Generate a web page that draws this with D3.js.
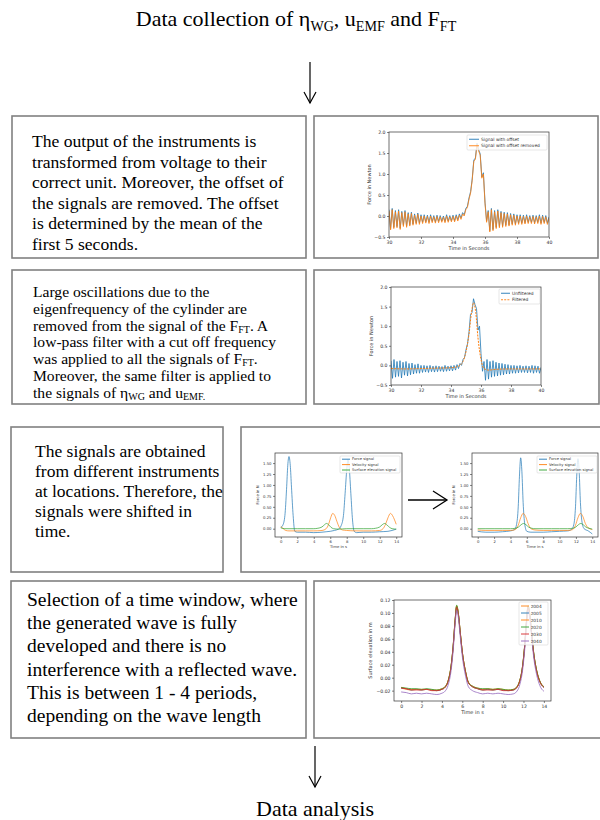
<!DOCTYPE html>
<html><head><meta charset="utf-8">
<script src="https://cdn.jsdelivr.net/npm/d3@7"></script>
<style>body{margin:0;background:#fff}svg{display:block}</style>
</head><body><svg id="c" width="600" height="820"></svg>
<script>
// ---------------- DATA ----------------
const titleText = "Data collection of η_{WG}, u_{EMF} and F_{FT}";
const footerText = "Data analysis";
const box1Lines = ["The output of the instruments is","transformed from voltage to their","correct unit. Moreover, the offset of","the signals are removed. The offset","is determined by the mean of the","first 5 seconds."];
const box2Lines = ["Large oscillations due to the","eigenfrequency of the cylinder are","removed from the signal of the F_{FT}. A","low-pass filter with a cut off frequency","was applied to all the signals of F_{FT}.","Moreover, the same filter is applied to","the signals of η_{WG} and u_{EMF.}"];
const box3Lines = ["The signals are obtained","from different instruments","at locations. Therefore, the","signals were shifted in","time."];
const box4Lines = ["Selection of a time window, where","the generated wave is fully","developed and there is no","interference with a reflected wave.","This is between 1 - 4 periods,","depending on the wave length"];

// Chart 1 / 2 : force signal sampled every 0.1 s from 30 s to 40 s
const forceTime = d3.range(0, 101).map(i => +(30 + i * 0.1).toFixed(1));
const signalWithOffset = [0.15,-0.30,0.18,-0.27,0.13,-0.25,0.15,-0.29,0.11,-0.22,0.13,
  -0.24,0.08,-0.21,0.09,-0.19,0.05,-0.17,0.07,-0.17,0.03,
  -0.15,0.03,-0.14,0.02,-0.15,0.03,-0.13,0.01,-0.14,0.02,
  -0.13,0.01,-0.12,0.0,-0.13,0.03,-0.12,0.01,-0.11,0.02,
  -0.11,0.03,-0.09,0.05,-0.05,0.08,
  0.03,0.18,0.23,0.43,
  0.58,0.88,1.33,1.38,1.73,1.58,1.48,0.93,1.03,0.33,
  -0.12,0.13,-0.35,0.18,-0.32,0.13,-0.27,0.15,-0.25,0.11,
  -0.24,0.09,-0.22,0.08,-0.21,0.06,-0.19,0.05,-0.19,0.03,
  -0.17,0.03,-0.17,0.02,-0.16,0.03,-0.15,0.01,-0.15,0.02,
  -0.16,0.01,-0.15,0.03,-0.17,0.02,-0.15,0.01,-0.17,-0.02];
const signalOffsetRemoved = [0.12,-0.33,0.15,-0.30,0.10,-0.28,0.12,-0.32,0.08,-0.25,0.10,
  -0.27,0.05,-0.24,0.06,-0.22,0.02,-0.20,0.04,-0.20,0.0,
  -0.18,0.0,-0.17,-0.01,-0.18,0.0,-0.16,-0.02,-0.17,-0.01,
  -0.16,-0.02,-0.15,-0.03,-0.16,0.0,-0.15,-0.02,-0.14,-0.01,
  -0.14,0.0,-0.12,0.02,-0.08,0.05,
  0.0,0.15,0.20,0.40,
  0.55,0.85,1.30,1.35,1.70,1.55,1.45,0.90,1.00,0.30,
  -0.15,0.10,-0.38,0.15,-0.35,0.10,-0.30,0.12,-0.28,0.08,
  -0.27,0.06,-0.25,0.05,-0.24,0.03,-0.22,0.02,-0.22,0.0,
  -0.20,0.0,-0.20,-0.01,-0.19,0.0,-0.18,-0.02,-0.18,-0.01,
  -0.19,-0.02,-0.18,0.0,-0.20,-0.01,-0.18,-0.02,-0.20,-0.05];
const filteredTime = [30,31,32,33,34,34.5,34.8,35.0,35.2,35.35,35.5,35.65,35.8,36.0,36.2,36.5,37,38,39,40];
const filteredForce = [-0.08,-0.09,-0.08,-0.07,-0.06,-0.02,0.1,0.35,0.8,1.3,1.6,1.35,0.7,0.15,-0.08,-0.12,-0.1,-0.09,-0.09,-0.09];
const forceXTicks = [30,32,34,36,38,40];
const forceYTicks = [-0.5,0,0.5,1.0,1.5,2.0];

// Chart 3: before shifting
const preForceT = [0,0.25,0.5,0.7,0.85,1.0,1.15,1.3,1.5,1.7,2,3,4,5,5.5,6,6.5,7,7.3,7.6,7.8,8.0,8.15,8.3,8.5,8.7,8.9,9.2,10,11,12,13,14];
const preForce = [0.03,0.08,0.3,0.9,1.45,1.65,1.45,0.95,0.3,-0.06,-0.08,-0.08,-0.09,-0.08,-0.07,-0.06,-0.04,-0.01,0.06,0.3,0.8,1.35,1.58,1.4,0.8,0.2,-0.06,-0.09,-0.08,-0.08,-0.07,-0.06,-0.01];
const preVelT = [0,0.3,0.6,1,2,3,4,5,5.5,5.8,6.05,6.3,6.55,6.8,7.1,7.5,8,9,10,11,12,12.4,12.7,13.0,13.3,13.55,13.8,14];
const preVel = [0.05,0.0,-0.04,-0.05,-0.05,-0.05,-0.05,-0.04,0.0,0.1,0.25,0.35,0.3,0.17,0.03,-0.03,-0.04,-0.05,-0.05,-0.05,-0.04,0.0,0.1,0.25,0.35,0.3,0.2,0.1];
const preSurfT = [0,0.5,1,2,3,4,4.5,5,5.3,5.55,5.8,6.1,6.4,7,8,9,10,11,11.5,12,12.3,12.6,12.9,13.2,13.5,14];
const preSurf = [0.02,0.0,0.0,0.0,0.0,0.0,0.01,0.04,0.09,0.12,0.09,0.03,0.0,-0.01,0.0,0.0,0.0,0.0,0.01,0.04,0.09,0.12,0.08,0.03,0.0,-0.01];
// Chart 3: after shifting
const postForceT = [0,1,2,3,4,4.5,4.75,4.95,5.1,5.25,5.4,5.55,5.75,6.0,6.5,7,8,9,10,11,11.5,11.75,11.95,12.1,12.25,12.4,12.55,12.75,13.0,13.5,14];
const postForce = [-0.06,-0.08,-0.08,-0.07,-0.05,-0.02,0.1,0.5,1.2,1.62,1.3,0.6,0.1,-0.06,-0.08,-0.08,-0.08,-0.07,-0.06,-0.05,-0.01,0.1,0.5,1.2,1.6,1.3,0.6,0.15,0.0,-0.05,-0.12];
const postVelT = [0,1,2,3,4,4.6,4.95,5.25,5.55,5.85,6.15,6.5,7,8,9,10,11,11.6,11.95,12.25,12.55,12.85,13.15,13.5,14];
const postVel = [-0.03,-0.04,-0.04,-0.04,-0.04,-0.02,0.08,0.25,0.35,0.28,0.12,0.0,-0.03,-0.04,-0.04,-0.04,-0.04,-0.02,0.08,0.25,0.35,0.28,0.12,0.02,-0.02];
const postSurfT = [0,1,2,3,4,4.6,5.0,5.3,5.6,5.9,6.2,6.6,7,8,9,10,11,11.6,12.0,12.3,12.6,12.9,13.2,13.6,14];
const postSurf = [0.0,0.0,0.0,0.0,0.0,0.01,0.04,0.09,0.12,0.09,0.04,0.01,0.0,0.0,0.0,0.0,0.0,0.01,0.04,0.09,0.12,0.09,0.04,0.01,-0.01];
const signalNames = ["Force signal","Velocity signal","Surface elevation signal"];
const timeTicks = [0,2,4,6,8,10,12,14];
const shiftYTicks = [0,0.25,0.5,0.75,1.0,1.25,1.5];

// Chart 4: surface elevation at wave gauges
const gaugeT = [0,0.5,1,1.5,2,2.5,3,3.5,4,4.3,4.6,4.9,5.1,5.3,5.45,5.6,5.8,6.0,6.3,6.6,7,7.5,8,8.5,9,9.5,10,10.5,11,11.3,11.6,11.9,12.1,12.3,12.45,12.6,12.8,13.0,13.3,13.6,14];
const gaugeNames = ["z004","z005","z010","z020","z030","z040"];
const z004 = [-0.016,-0.018,-0.019,-0.018,-0.019,-0.018,-0.019,-0.020,-0.018,-0.015,-0.006,0.018,0.048,0.090,0.111,0.100,0.070,0.040,0.010,-0.008,-0.014,-0.017,-0.019,-0.018,-0.019,-0.018,-0.019,-0.020,-0.019,-0.016,-0.007,0.016,0.046,0.088,0.111,0.100,0.068,0.038,0.010,-0.006,-0.015];
const z005 = [-0.016,-0.017,-0.019,-0.018,-0.019,-0.018,-0.019,-0.020,-0.018,-0.015,-0.006,0.017,0.047,0.089,0.110,0.100,0.069,0.039,0.010,-0.008,-0.014,-0.017,-0.019,-0.018,-0.019,-0.018,-0.019,-0.020,-0.019,-0.016,-0.007,0.016,0.045,0.087,0.110,0.099,0.068,0.038,0.010,-0.006,-0.015];
const z010 = [-0.015,-0.017,-0.018,-0.018,-0.018,-0.018,-0.019,-0.019,-0.017,-0.014,-0.005,0.018,0.048,0.090,0.111,0.101,0.070,0.040,0.011,-0.007,-0.013,-0.016,-0.018,-0.017,-0.018,-0.017,-0.018,-0.019,-0.018,-0.015,-0.006,0.017,0.046,0.088,0.111,0.100,0.069,0.039,0.011,-0.005,-0.014];
const z020 = [-0.015,-0.016,-0.017,-0.017,-0.018,-0.017,-0.018,-0.019,-0.017,-0.014,-0.005,0.019,0.049,0.091,0.112,0.101,0.070,0.040,0.011,-0.007,-0.013,-0.016,-0.017,-0.017,-0.018,-0.017,-0.018,-0.019,-0.018,-0.015,-0.006,0.017,0.047,0.089,0.111,0.100,0.069,0.039,0.011,-0.005,-0.014];
const z030 = [-0.016,-0.017,-0.019,-0.019,-0.019,-0.018,-0.020,-0.020,-0.018,-0.015,-0.006,0.017,0.047,0.089,0.109,0.099,0.069,0.039,0.010,-0.008,-0.014,-0.017,-0.019,-0.019,-0.019,-0.018,-0.020,-0.020,-0.019,-0.016,-0.007,0.015,0.045,0.087,0.109,0.099,0.067,0.037,0.009,-0.006,-0.015];
const z040 = [-0.022,-0.023,-0.025,-0.024,-0.025,-0.024,-0.025,-0.026,-0.024,-0.021,-0.012,0.011,0.041,0.083,0.104,0.094,0.063,0.033,0.004,-0.014,-0.020,-0.023,-0.025,-0.024,-0.025,-0.024,-0.025,-0.026,-0.025,-0.022,-0.013,0.010,0.039,0.081,0.104,0.093,0.062,0.032,0.004,-0.012,-0.021];
const gaugeYTicks = [-0.02,0,0.02,0.04,0.06,0.08,0.10,0.12];

// ---------------- DRAWING ----------------
const svg = d3.select("#c");
const serif = "'Liberation Serif','Times New Roman',serif";
const sans = "'DejaVu Sans',sans-serif";
const C = {blue:"#1f77b4", orange:"#ff7f0e", green:"#2ca02c", red:"#d62728", purple:"#9467bd"};

function rich(g, x, y, str, size, anchor, subShift) {
  const t = g.append("text").attr("x", x).attr("y", y).attr("font-family", serif)
    .attr("font-size", size).attr("fill", "#000").attr("text-anchor", anchor || "start");
  let shifted = 0;
  const k = subShift == null ? 0.22 : subShift;
  str.split(/(_\{[^}]*\})/).forEach(p => {
    if (!p) return;
    const m = p.match(/^_\{(.*)\}$/);
    if (m) {
      const d = size * k;
      t.append("tspan").attr("font-size", size * 0.64).attr("dy", d - shifted).text(m[1]);
      shifted = d;
    } else {
      t.append("tspan").attr("dy", -shifted).text(p);
      shifted = 0;
    }
  });
  return t;
}

function box(x, y, w, h) {
  svg.append("rect").attr("x", x).attr("y", y).attr("width", w).attr("height", h)
    .attr("fill", "none").attr("stroke", "#808080").attr("stroke-width", 1.6);
}
function textBlock(lines, x, y0, dy, size, subShift) {
  lines.forEach((l, i) => rich(svg, x, y0 + i * dy, l, size, "start", subShift));
}
function arrowDown(x, y1, y2) {
  svg.append("line").attr("x1", x).attr("x2", x).attr("y1", y1).attr("y2", y2).attr("stroke", "#000").attr("stroke-width", 1.2);
  svg.append("polyline").attr("points", `${x-6},${y2-11} ${x},${y2} ${x+6},${y2-11}`).attr("fill", "none").attr("stroke", "#000").attr("stroke-width", 1.2);
}

let clipN = 0;
function chart(cfg) {
  const g = svg.append("g");
  const x = d3.scaleLinear().domain(cfg.xd).range([cfg.l, cfg.r]);
  const y = d3.scaleLinear().domain(cfg.yd).range([cfg.b, cfg.t]);
  const ax = g.append("g").attr("transform", `translate(0,${cfg.b})`)
    .call(d3.axisBottom(x).tickValues(cfg.xt).tickSize(2).tickPadding(1.5).tickFormat(cfg.xf));
  const ay = g.append("g").attr("transform", `translate(${cfg.l},0)`)
    .call(d3.axisLeft(y).tickValues(cfg.yt).tickSize(2).tickPadding(1.5).tickFormat(cfg.yf));
  [ax, ay].forEach(a => {
    a.select(".domain").remove();
    a.selectAll("text").attr("font-family", sans).attr("font-size", cfg.fs).attr("fill", "#333");
    a.selectAll("line").attr("stroke", "#333").attr("stroke-width", 0.6);
  });
  const id = "clip" + (clipN++);
  g.append("clipPath").attr("id", id).append("rect")
    .attr("x", cfg.l).attr("y", cfg.t).attr("width", cfg.r - cfg.l).attr("height", cfg.b - cfg.t);
  const line = d3.line().x(d => x(d[0])).y(d => y(d[1]));
  cfg.series.forEach(s => {
    g.append("path").attr("clip-path", `url(#${id})`)
      .datum(s.x.map((v, i) => [v, s.y[i]]))
      .attr("d", line.curve(s.curve || d3.curveLinear))
      .attr("fill", "none").attr("stroke", s.color).attr("stroke-width", s.w || 0.8)
      .attr("stroke-dasharray", s.dash || null);
  });
  g.append("rect").attr("x", cfg.l).attr("y", cfg.t).attr("width", cfg.r - cfg.l).attr("height", cfg.b - cfg.t)
    .attr("fill", "none").attr("stroke", "#333").attr("stroke-width", 0.7);
  // legend
  const L = cfg.legend;
  g.append("rect").attr("x", L.x).attr("y", L.y).attr("width", L.w).attr("height", L.h).attr("rx", 1)
    .attr("fill", "#fff").attr("fill-opacity", 0.8).attr("stroke", "#ccc").attr("stroke-width", 0.5);
  cfg.series.forEach((s, i) => {
    const yy = L.y + L.pad + L.rowH * (i + 0.5);
    g.append("line").attr("x1", L.x + 2).attr("x2", L.x + 2 + L.sw).attr("y1", yy).attr("y2", yy)
      .attr("stroke", s.color).attr("stroke-width", 0.9).attr("stroke-dasharray", s.dash || null);
    g.append("text").attr("x", L.x + 4 + L.sw).attr("y", yy).attr("dy", "0.35em")
      .attr("font-family", sans).attr("font-size", L.fs).attr("fill", "#333").text(s.name);
  });
  g.append("text").attr("x", (cfg.l + cfg.r) / 2).attr("y", cfg.xlY).attr("text-anchor", "middle")
    .attr("font-family", sans).attr("font-size", cfg.lfs).attr("fill", "#333").text(cfg.xlabel);
  g.append("text").attr("transform", `translate(${cfg.ylX},${(cfg.t + cfg.b) / 2}) rotate(-90)`)
    .attr("text-anchor", "middle").attr("font-family", sans).attr("font-size", cfg.lfs).attr("fill", "#333").text(cfg.ylabel);
}

// title + arrows
rich(svg, 296, 26, titleText, 22, "middle");
arrowDown(310, 62, 103);
arrowDown(315, 746, 787);
rich(svg, 315, 816, footerText, 22, "middle");

// boxes
box(12, 116, 294, 142); box(314, 116, 284, 142);
box(12, 270, 294, 134); box(314, 270, 285, 134);
box(11, 427, 212, 145); box(241, 427, 362, 145);
box(11, 581, 295, 157); box(314, 581, 290, 157);

textBlock(box1Lines, 32, 147, 20.6, 17.6);
textBlock(box2Lines, 33, 297, 16.8, 15.6, 0.14);
textBlock(box3Lines, 35, 457, 20, 17.5);
textBlock(box4Lines, 27, 606, 23.2, 19.5);

const f1 = d3.format(".1f"), f2 = d3.format(".2f"), fi = d3.format("d");

chart({l:389, r:549, t:132, b:237, xd:[30,40], yd:[-0.5,2.0], xt:forceXTicks, yt:forceYTicks, xf:fi, yf:f1, fs:4.6, lfs:5,
  xlabel:"Time in Seconds", ylabel:"Force in Newton", xlY:250, ylX:371,
  series:[{x:forceTime, y:signalWithOffset, color:C.blue, name:"Signal with offset"},
          {x:forceTime, y:signalOffsetRemoved, color:C.orange, name:"Signal with offset removed"}],
  legend:{x:467, y:135, w:80, h:15, pad:1, rowH:6.5, sw:10, fs:4.4}});

chart({l:391, r:541, t:287, b:385, xd:[30,40], yd:[-0.5,2.0], xt:forceXTicks, yt:forceYTicks, xf:fi, yf:f1, fs:4.6, lfs:5,
  xlabel:"Time in Seconds", ylabel:"Force in Newton", xlY:398, ylX:373,
  series:[{x:forceTime, y:signalOffsetRemoved, color:C.blue, name:"Unfiltered"},
          {x:filteredTime, y:filteredForce, color:C.orange, dash:"2,1.2", w:1, curve:d3.curveMonotoneX, name:"Filtered"}],
  legend:{x:499, y:289, w:41, h:15, pad:1, rowH:6.5, sw:9, fs:4.4}});

const sig3 = (ft, f, vt, v, st, s) => [
  {x:ft, y:f, color:C.blue, curve:d3.curveMonotoneX, w:0.7, name:signalNames[0]},
  {x:vt, y:v, color:C.orange, curve:d3.curveMonotoneX, w:0.7, name:signalNames[1]},
  {x:st, y:s, color:C.green, curve:d3.curveMonotoneX, w:0.7, name:signalNames[2]}];

chart({l:275, r:402, t:453, b:537, xd:[-0.7,14.7], yd:[-0.19,1.73], xt:timeTicks, yt:shiftYTicks, xf:fi, yf:f2, fs:3.8, lfs:3.8,
  xlabel:"Time in s", ylabel:"Force in N", xlY:548, ylX:259,
  series:sig3(preForceT, preForce, preVelT, preVel, preSurfT, preSurf),
  legend:{x:340, y:456, w:60, h:17, pad:0.5, rowH:5.4, sw:8, fs:3.7}});

chart({l:472, r:598, t:453, b:537, xd:[-0.7,14.7], yd:[-0.19,1.73], xt:timeTicks, yt:shiftYTicks, xf:fi, yf:f2, fs:3.8, lfs:3.8,
  xlabel:"Time in s", ylabel:"Force in N", xlY:548, ylX:455,
  series:sig3(postForceT, postForce, postVelT, postVel, postSurfT, postSurf),
  legend:{x:537, y:456, w:60, h:17, pad:0.5, rowH:5.4, sw:8, fs:3.7}});

// middle arrow
svg.append("line").attr("x1", 408).attr("x2", 447).attr("y1", 500).attr("y2", 500).attr("stroke", "#000").attr("stroke-width", 1.3);
svg.append("polyline").attr("points", "433,491 447,500 433,509").attr("fill", "none").attr("stroke", "#000").attr("stroke-width", 1.3);

const gaugeColors = [C.orange, C.blue, C.orange, C.green, C.red, C.purple];
const gaugeData = [z004, z005, z010, z020, z030, z040];
chart({l:394, r:551, t:600, b:701, xd:[-0.7,14.7], yd:[-0.036,0.12], xt:timeTicks, yt:gaugeYTicks, xf:fi, yf:f2, fs:4.6, lfs:5,
  xlabel:"Time in s", ylabel:"Surface elevation in m", xlY:714, ylX:372,
  series:gaugeNames.map((n, i) => ({x:gaugeT, y:gaugeData[i], color:gaugeColors[i], curve:d3.curveMonotoneX, w:0.8, name:n})),
  legend:{x:519, y:602, w:29, h:43, pad:0.5, rowH:7, sw:8, fs:4.4}});
</script></body></html>
